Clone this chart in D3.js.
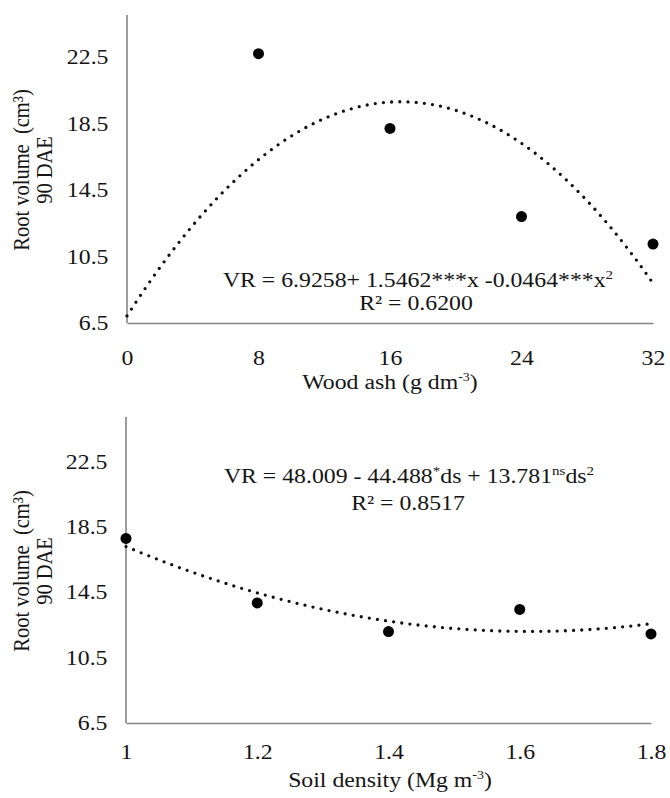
<!DOCTYPE html>
<html>
<head>
<meta charset="utf-8">
<script src="https://cdn.jsdelivr.net/npm/d3@7/dist/d3.min.js"></script>
<style>
  html, body { margin: 0; padding: 0; background: #fff; }
  svg { display: block; }
  svg text { white-space: pre; }
</style>
</head>
<body>
<svg id="chart" width="670" height="798"></svg>
<script>
// Panel A: wood ash dose
const ashDoses = [8, 16, 24, 32];
const ashVolume = [22.7, 18.2, 12.9, 11.25];
const ashTicks = [0, 8, 16, 24, 32];
const ashCoef = [6.9258, 1.5462, -0.0464];

// Panel B: soil density
const densities = [1.0, 1.2, 1.4, 1.6, 1.8];
const densityVolume = [17.8, 13.85, 12.1, 13.45, 11.95];
const densityTicks = [1, 1.2, 1.4, 1.6, 1.8];
const densityCoef = [48.009, -44.488, 13.781];

const yTicks = [6.5, 10.5, 14.5, 18.5, 22.5];

const svg = d3.select("#chart");
const ink = "#151515";
const axisGrey = "#858585";
const FS = 20.5;     // base text size
const SX = 1.16;     // horizontal glyph stretch
const SERIF = "Liberation Serif, DejaVu Serif, serif";

function quad(c, x) { return c[0] + c[1] * x + c[2] * x * x; }

// text placed at (x, y) with horizontally widened glyphs
function wideText(g, x, y, rotate) {
  return g.append("text")
    .attr("transform", `translate(${x},${y}) scale(${SX},1)` + (rotate ? " rotate(-90)" : ""))
    .attr("font-size", FS).attr("fill", ink).attr("font-family", SERIF);
}

function panel(opts) {
  const g = svg.append("g");
  const x = d3.scaleLinear().domain(opts.xDomain).range(opts.xRange);
  const y = d3.scaleLinear().domain([6.5, 25]).range(opts.yRange);

  // axes: plain lines, no tick marks
  const yAxis = d3.axisLeft(y).tickValues(yTicks).tickSize(0).tickPadding(16)
    .tickFormat(d3.format(".1f"));
  const xAxis = d3.axisBottom(x).tickValues(opts.xTicks).tickSize(0).tickPadding(opts.xPad)
    .tickFormat(opts.xFormat);

  const gy = g.append("g").attr("transform", `translate(${opts.xRange[0]},0)`).call(yAxis);
  const gx = g.append("g").attr("transform", `translate(0,${opts.yRange[0]})`).call(xAxis);
  [gx, gy].forEach(a => {
    a.attr("font-size", FS).attr("font-family", SERIF);
    a.select(".domain").attr("stroke", axisGrey).attr("stroke-width", 1.6);
    a.selectAll("text").attr("fill", ink).attr("transform", `scale(${SX},1)`);
  });
  gy.select(".domain").attr("d", `M0,${opts.yRange[0]}V${opts.yTop}`);

  // fitted curve
  const xs = d3.range(0, 201).map(i => opts.xDomain[0] + (opts.xDomain[1] - opts.xDomain[0]) * i / 200);
  const line = d3.line().x(d => x(d)).y(d => y(quad(opts.coef, d)));
  g.append("path").datum(xs).attr("d", line)
    .attr("fill", "none").attr("stroke", "#111").attr("stroke-width", 3.3)
    .attr("stroke-linecap", "round").attr("stroke-dasharray", "0,8.2");

  // observed means
  g.selectAll("circle.obs").data(opts.xVals.map((v, i) => [v, opts.yVals[i]]))
    .enter().append("circle").attr("class", "obs")
    .attr("cx", d => x(d[0])).attr("cy", d => y(d[1])).attr("r", 5.5).attr("fill", "#000");

  // y title
  wideText(g, 29, opts.yTitleY, true).attr("text-anchor", "middle").text("Root volume  (cm³)");
  wideText(g, 52, opts.yTitleY, true).attr("text-anchor", "middle").text("90 DAE");

  // x title
  const xt = wideText(g, opts.xTitleX, opts.xTitleY, false).attr("text-anchor", "middle");
  xt.append("tspan").text(opts.xTitle);
  xt.append("tspan").attr("font-size", 12).attr("dy", -8).text("-3");
  xt.append("tspan").attr("dy", 8).text(")");

  return g;
}

const gA = panel({
  xDomain: [0, 32], xRange: [127, 653], yRange: [323, 15.4], yTop: 15,
  xTicks: ashTicks, xFormat: d3.format("d"), xPad: 27, coef: ashCoef,
  xVals: ashDoses, yVals: ashVolume, yTitleY: 170,
  xTitle: "Wood ash (g dm", xTitleX: 390, xTitleY: 389
});

const gB = panel({
  xDomain: [1, 1.8], xRange: [126, 651], yRange: [723, 420.8], yTop: 417,
  xTicks: densityTicks, xFormat: d => String(+d.toFixed(1)), xPad: 21, coef: densityCoef,
  xVals: densities, yVals: densityVolume, yTitleY: 571,
  xTitle: "Soil density (Mg m", xTitleX: 390, xTitleY: 787
});

// regression equations
function eqText(g, xPos, yPos, parts) {
  const t = wideText(g, xPos, yPos, false).attr("text-anchor", "middle");
  parts.forEach(p => {
    const s = t.append("tspan").text(p[0]);
    if (p[1] === "sup") s.attr("font-size", 13).attr("dy", -8);
    if (p[1] === "base") s.attr("dy", 8);
  });
}

eqText(gA, 418, 287, [["VR = 6.9258+ 1.5462***x -0.0464***x"], ["2", "sup"]]);
eqText(gA, 416, 310, [["R² = 0.6200"]]);

eqText(gB, 409, 483, [["VR = 48.009 - 44.488"], ["*", "sup"], ["ds + 13.781", "base"], ["ns", "sup"], ["ds", "base"], ["2", "sup"]]);
eqText(gB, 408, 510, [["R² = 0.8517"]]);
</script>
</body>
</html>
